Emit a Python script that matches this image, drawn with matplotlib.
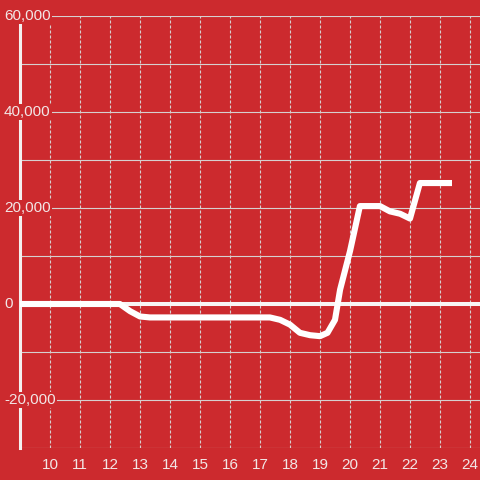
"""
plot.py

Step line of a running balance on a red background.
"""

import matplotlib
matplotlib.use("Agg")

import matplotlib.pyplot as plt
from matplotlib.transforms import blended_transform_factory


# =====================================================
# DATA
# =====================================================

hours = [
    9.0, 12.33, 12.67, 13.0, 13.33, 17.33, 17.67, 18.0, 18.33,
    18.67, 19.0, 19.25, 19.5, 19.67, 20.0, 20.33, 21.0, 21.33,
    21.67, 22.0, 22.33, 23.4
]

balance = [
    0, 0, -1500, -2600, -2800, -2800, -3300, -4300, -6000,
    -6500, -6700, -6000, -3300, 3000, 11000, 20400, 20400, 19300,
    18800, 17800, 25200, 25200
]

x_ticks = list(range(10, 25))

y_labels = [60000, 40000, 20000, 0, -20000]


# =====================================================
# STYLE
# =====================================================

bg = "#cc2a2e"
text_color = "#f2e6e6"
grid_color = "#d6d0d0"

plt.rcParams["font.family"] = ["Liberation Sans", "DejaVu Sans"]


# =====================================================
# FIGURE
# =====================================================

fig = plt.figure(figsize=(4.8, 4.8), dpi=100, facecolor=bg)

ax = fig.add_axes([20 / 480, 32 / 480, 460 / 480, 432 / 480])

ax.set_facecolor(bg)

ax.set_xlim(9.0, 9.0 + 460 / 30)

ax.set_ylim(-30000, 60000)

for side in ["top", "right", "bottom"]:
    ax.spines[side].set_visible(False)

ax.spines["left"].set_color("#f4f0f0")
ax.spines["left"].set_linewidth(2.2)
ax.spines["left"].set_zorder(3)

# horizontal grid every 10,000
for val in range(-30000, 60001, 10000):
    ax.axhline(val, color=grid_color, linewidth=0.8, zorder=1)

# vertical dashed grid
for xt in x_ticks:
    ax.axvline(
        xt,
        color=grid_color,
        linewidth=0.8,
        linestyle=(0, (2.7, 1.8)),
        zorder=1
    )

# zero line
ax.axhline(0, color="#f8f4f4", linewidth=2.9, zorder=2)

ax.plot(
    hours,
    balance,
    color="white",
    linewidth=4.4,
    solid_capstyle="butt",
    solid_joinstyle="round",
    zorder=4
)

ax.set_xticks(x_ticks)
ax.set_xticklabels([str(t) for t in x_ticks])
ax.tick_params(
    axis="x",
    length=0,
    pad=7,
    labelsize=11,
    labelcolor=text_color
)

ax.set_yticks([])

# y labels with red background, drawn over the spine
trans = blended_transform_factory(fig.transFigure, ax.transData)

for val in y_labels:
    ax.text(
        4 / 480,
        val,
        f"{val:,}",
        transform=trans,
        ha="left",
        va="center",
        fontsize=11,
        color=text_color,
        zorder=5,
        clip_on=False,
        bbox=dict(facecolor=bg, edgecolor="none", pad=1.0)
    )

fig.savefig("out.png", dpi=100, facecolor=bg)
